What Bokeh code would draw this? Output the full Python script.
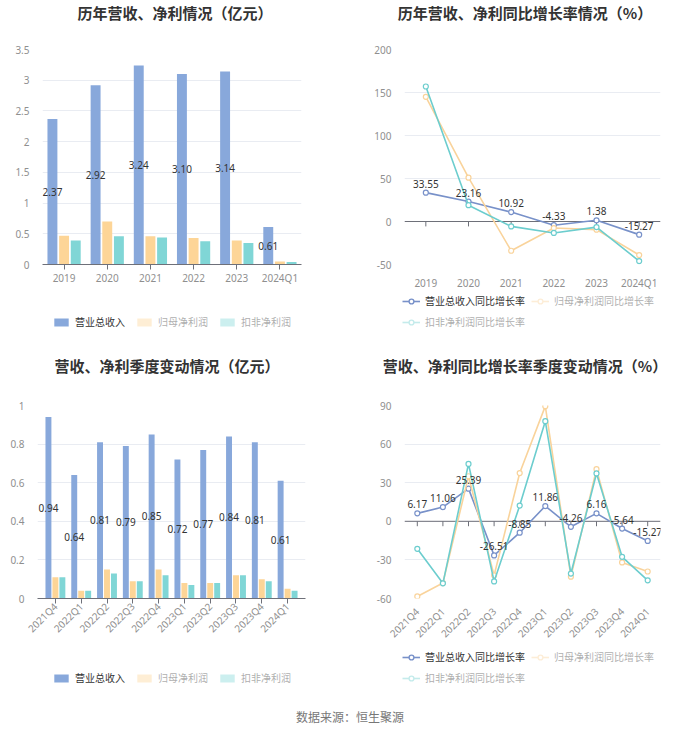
import math
from bokeh.plotting import figure
from bokeh.models import (Range1d, FixedTicker, CustomJSTickFormatter, Legend, LegendItem,
                          Span, Div, ColumnDataSource, FactorRange)
from bokeh.layouts import column, row
from bokeh.transform import dodge
from bokeh.core.properties import value
from bokeh.embed import file_html
from bokeh.resources import INLINE

# ---------------- data ----------------
years = ["2019", "2020", "2021", "2022", "2023", "2024Q1"]
rev_y = [2.37, 2.92, 3.24, 3.10, 3.14, 0.61]
np_y = [0.47, 0.70, 0.46, 0.43, 0.39, 0.05]
kf_y = [0.39, 0.46, 0.44, 0.38, 0.35, 0.04]

rev_g_y = [33.55, 23.16, 10.92, -4.33, 1.38, -15.27]
np_g_y = [145.0, 51.0, -34.0, -7.6, -9.5, -39.0]
kf_g_y = [157.0, 19.0, -5.7, -13.3, -6.5, -46.0]

quarters = ["2021Q4", "2022Q1", "2022Q2", "2022Q3", "2022Q4",
            "2023Q1", "2023Q2", "2023Q3", "2023Q4", "2024Q1"]
rev_q = [0.94, 0.64, 0.81, 0.79, 0.85, 0.72, 0.77, 0.84, 0.81, 0.61]
np_q = [0.11, 0.04, 0.15, 0.09, 0.15, 0.08, 0.08, 0.12, 0.10, 0.05]
kf_q = [0.11, 0.04, 0.13, 0.09, 0.12, 0.07, 0.08, 0.12, 0.09, 0.04]

rev_g_q = [6.17, 11.06, 25.39, -26.51, -8.85, 11.86, -4.26, 6.16, -5.64, -15.27]
np_g_q = [-58.4, -48.0, 35.0, -42.0, 37.5, 89.5, -43.0, 40.5, -32.0, -39.0]
kf_g_q = [-21.4, -48.2, 44.6, -46.7, 12.2, 77.8, -40.6, 37.2, -27.6, -45.9]

bar_names = ["营业总收入", "归母净利润", "扣非净利润"]
line_names = ["营业总收入同比增长率", "归母净利润同比增长率", "扣非净利润同比增长率"]

ticks_y_bar = [0, 0.5, 1, 1.5, 2, 2.5, 3, 3.5]
ticks_y_line = [-50, 0, 50, 100, 150, 200]
ticks_q_bar = [0, 0.2, 0.4, 0.6, 0.8, 1]
ticks_q_line = [-60, -30, 0, 30, 60, 90]

titles = ["历年营收、净利情况（亿元）", "历年营收、净利同比增长率情况（%）",
          "营收、净利季度变动情况（亿元）", "营收、净利同比增长率季度变动情况（%）"]
source_text = "数据来源：恒生聚源"

# ---------------- style ----------------
CJK = "Noto Sans CJK SC"
NUM = "Noto Sans"
BAR_COLORS = ["#88a8db", "#fdd597", "#80d6d6"]
LINE_COLORS = ["#7891c9", "#f9d39b", "#6ccdce"]
AXIS = "#6e7079"
GRID = "#e9ecf2"
TICK_TXT = "#8f8f8f"


def title_div(text, height, pad_right=0):
    html = ('<div style="width:350px;text-align:center;font-family:\'Noto Sans CJK SC\';'
            'font-weight:bold;font-size:15px;color:#333333;line-height:%dpx;'
            'padding-right:%dpx;box-sizing:border-box;">%s</div>') % (height, pad_right, text)
    return Div(text=html, width=350, height=height, margin=0)


def base_fig(cats, y0, y1, ticks, height, bl, br, bt, bb, pad=0.0):
    p = figure(x_range=FactorRange(*cats, range_padding=pad), y_range=Range1d(y0, y1),
               width=350, height=height,
               min_border_left=bl, min_border_right=br, min_border_top=bt,
               min_border_bottom=bb, output_backend="svg", toolbar_location=None)
    p.outline_line_color = None
    p.background_fill_color = "white"
    p.border_fill_color = "white"
    p.yaxis.ticker = FixedTicker(ticks=ticks)
    p.ygrid.ticker = FixedTicker(ticks=ticks)
    p.yaxis.formatter = CustomJSTickFormatter(code="return String(tick)")
    p.yaxis.axis_line_color = None
    p.yaxis.major_tick_line_color = None
    p.yaxis.minor_tick_line_color = None
    p.yaxis.major_label_text_font = NUM
    p.yaxis.major_label_text_font_size = "10px"
    p.yaxis.major_label_text_color = TICK_TXT
    p.yaxis.major_label_standoff = 7
    p.xaxis.major_label_text_font = NUM
    p.xaxis.major_label_text_font_size = "10px"
    p.xaxis.major_label_text_color = TICK_TXT
    p.xgrid.grid_line_color = None
    p.ygrid.grid_line_color = GRID
    return p


def legend_fig(cats, height):
    # strip that only holds the legend; its y window lies above all values,
    # so the legend's renderers draw nothing visible here
    lf = figure(width=350, height=height, x_range=cats, y_range=Range1d(1000, 1001),
                x_axis_type=None, y_axis_type=None, min_border=0,
                output_backend="svg", toolbar_location=None)
    lf.outline_line_color = None
    lf.background_fill_color = "white"
    lf.border_fill_color = "white"
    lf.grid.visible = False
    return lf


def add_legend(lf, items, loc, ncols, gh, spacing):
    lg = Legend(items=items, location=loc, orientation="horizontal",
                label_text_font=CJK, label_text_font_size="10px",
                label_text_color="#333333", glyph_width=18, glyph_height=gh,
                label_height=10, label_standoff=5, spacing=spacing, padding=0,
                margin=0, border_line_color=None, background_fill_alpha=0,
                click_policy="mute", inactive_fill_color="white",
                inactive_fill_alpha=0.6)
    if ncols:
        lg.ncols = ncols
    lf.add_layout(lg)


def bar_chart(cats, rev, npv, kfv, ymax, ticks, height, bt, bb, rotate, lh, loc,
              bl=42, br=49, pad=0.0):
    p = base_fig(cats, 0, ymax, ticks, height, bl, br, bt, bb, pad)
    src = ColumnDataSource(dict(c=cats, rev=rev, np=npv, kf=kfv,
                                mid=[v / 2 for v in rev], lab=[f"{v:.2f}" for v in rev]))
    for field, off, col in zip(["rev", "np", "kf"], [-0.27, 0.0, 0.27], BAR_COLORS):
        p.vbar(x=dodge("c", off, range=p.x_range), top=field, width=0.23, source=src,
               fill_color=col, line_color=None)
    p.text(x=dodge("c", -0.27, range=p.x_range), y="mid", text="lab", source=src,
           text_align="center", text_baseline="middle", text_font=value(NUM),
           text_font_size="10px", text_color="#333333")
    p.xaxis.axis_line_color = AXIS
    p.xaxis.major_tick_line_color = AXIS
    p.xaxis.major_tick_out = 5
    p.xaxis.major_tick_in = 0
    p.xaxis.major_label_standoff = 1
    if rotate:
        p.xaxis.major_label_orientation = math.pi / 4
    lf = legend_fig(cats, lh)
    items = []
    for i, (name, field, col) in enumerate(zip(bar_names, ["rev", "np", "kf"], BAR_COLORS)):
        r = lf.vbar(x="c", top=field, width=0.2, source=src, fill_color=col,
                    line_color=None, muted_fill_color=col, muted_fill_alpha=1.0,
                    muted_line_alpha=0)
        if i > 0:
            r.muted = True
        items.append(LegendItem(label=name, renderers=[r]))
    add_legend(lf, items, loc, None, 10, 10)
    return p, lf


def line_chart(cats, rev, npv, kfv, y0, y1, ticks, height, bt, bb, rotate, lh, loc):
    p = base_fig(cats, y0, y1, ticks, height, 54, 40, bt, bb)
    n = len(cats)
    frame_h = height - bt - bb
    tick_len = 5 * (y1 - y0) / frame_h
    p.add_layout(Span(location=0, dimension="width", line_color=AXIS, line_width=1,
                      level="underlay"))
    p.segment(x0=cats, y0=[0] * n, x1=cats, y1=[-tick_len] * n, line_color=AXIS,
              line_width=1)
    p.xaxis.axis_line_color = None
    p.xaxis.major_tick_line_color = None
    p.xaxis.major_label_standoff = 5
    if rotate:
        p.xaxis.major_label_orientation = math.pi / 4
    for vals, col in zip([rev, npv, kfv], LINE_COLORS):
        p.line(cats, vals, line_color=col, line_width=1.6)
        p.scatter(cats, vals, marker="circle", size=5, fill_color="white",
                  line_color=col, line_width=1.2)
    p.text(cats, rev, text=[f"{v:.2f}" for v in rev], y_offset=-5,
           text_align="center", text_baseline="bottom", text_font=value(NUM),
           text_font_size="10px", text_color="#333333")
    lf = legend_fig(cats, lh)
    items = []
    for i, (name, vals, col) in enumerate(zip(line_names, [rev, npv, kfv], LINE_COLORS)):
        l = lf.line(cats, vals, line_color=col, line_width=1.6,
                    muted_line_color=col, muted_line_alpha=1.0)
        s = lf.scatter(cats, vals, marker="circle", size=8, fill_color="white",
                       line_color=col, line_width=1.4,
                       muted_fill_color="white", muted_fill_alpha=1.0,
                       muted_line_color=col, muted_line_alpha=1.0)
        if i > 0:
            l.muted = True
            s.muted = True
        items.append(LegendItem(label=name, renderers=[l, s]))
    add_legend(lf, items, loc, 2, 12, 6)
    return p, lf


p1, l1 = bar_chart(years, rev_y, np_y, kf_y, 3.5, ticks_y_bar, 266, 23, 23, False,
                   58, (52, 21))
p2, l2 = line_chart(years, rev_g_y, np_g_y, kf_g_y, -50, 200, ticks_y_line, 266, 23, 24,
                    False, 58, (52, 21))
p3, l3 = bar_chart(quarters, rev_q, np_q, kf_q, 1, ticks_q_bar, 266, 22, 46, True,
                   52, (52, 15), bl=37, br=45, pad=0.0388)
p4, l4 = line_chart(quarters, rev_g_q, np_g_q, kf_g_q, -60, 90, ticks_q_line, 266, 23, 47,
                    True, 52, (52, 15))

t1 = title_div(titles[0], 26)
t2 = title_div(titles[1], 26)
t3 = title_div(titles[2], 32, 16)
t4 = title_div(titles[3], 32)

footer = Div(text=('<div style="width:700px;text-align:center;font-family:\'Noto Sans CJK SC\';'
                   'font-size:12px;color:#777777;line-height:33px;">' + source_text + '</div>'),
             width=700, height=33, margin=0)

layout = column(row(t1, t2), row(p1, p2), row(l1, l2),
                row(t3, t4), row(p3, p4), row(l3, l4), footer)

with open("out.html", "w") as f:
    f.write(file_html(layout, INLINE))
